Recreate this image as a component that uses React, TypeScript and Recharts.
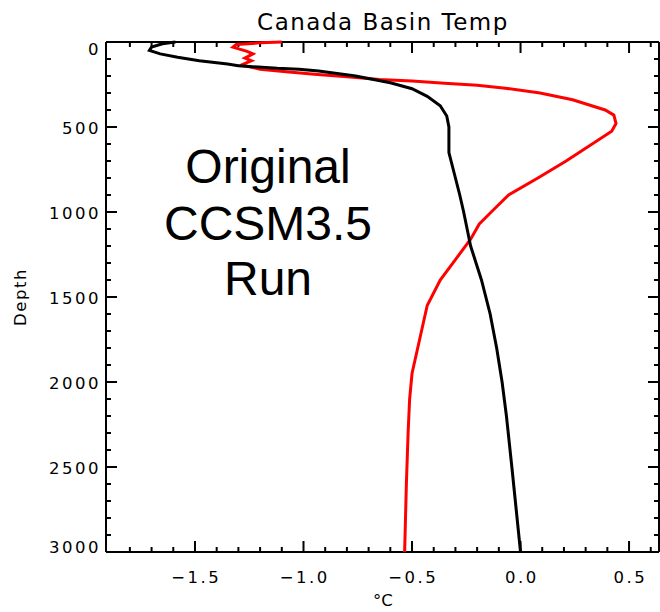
import React from 'react';
import { LineChart, Line, XAxis, YAxis, ReferenceLine } from 'recharts';

// black profile (depth m, temp degC)
const blackDepth = [0, 10, 30, 50, 70, 90, 110, 130, 140, 155, 160, 170, 200, 240, 275, 320, 375, 435, 500, 650, 750, 900, 1000, 1200, 1400, 1600, 1800, 2000, 2200, 2500, 2750, 3000];
const blackTemp = [-1.59, -1.65, -1.70, -1.71, -1.66, -1.58, -1.48, -1.35, -1.30, -1.12, -1.02, -0.93, -0.76, -0.60, -0.50, -0.43, -0.37, -0.34, -0.33, -0.33, -0.31, -0.28, -0.262, -0.23, -0.18, -0.14, -0.11, -0.085, -0.065, -0.04, -0.02, 0.0];

// red profile
const redDepth = [0, 5, 15, 30, 55, 70, 95, 110, 135, 160, 175, 190, 205, 220, 230, 243, 255, 272, 300, 340, 400, 430, 480, 525, 600, 700, 800, 900, 1000, 1070, 1160, 1280, 1400, 1550, 1750, 1950, 2100, 2300, 2600, 3000];
const redTemp = [-1.10, -1.20, -1.31, -1.325, -1.26, -1.233, -1.27, -1.24, -1.286, -1.20, -1.08, -0.95, -0.80, -0.65, -0.50, -0.35, -0.20, -0.07, 0.09, 0.24, 0.39, 0.43, 0.44, 0.42, 0.33, 0.21, 0.08, -0.055, -0.135, -0.19, -0.23, -0.30, -0.37, -0.43, -0.465, -0.50, -0.511, -0.518, -0.526, -0.534];

const xMajor = [-1.5, -1.0, -0.5, 0.0, 0.5];
const xTicks = [-1.8, -1.7, -1.6, -1.5, -1.4, -1.3, -1.2, -1.1, -1.0, -0.9, -0.8, -0.7, -0.6, -0.5, -0.4, -0.3, -0.2, -0.1, 0.0, 0.1, 0.2, 0.3, 0.4, 0.5, 0.6];
const yMajor = [0, 500, 1000, 1500, 2000, 2500, 3000];
const yTicks = [0, 100, 200, 300, 400, 500, 600, 700, 800, 900, 1000, 1100, 1200, 1300, 1400, 1500, 1600, 1700, 1800, 1900, 2000, 2100, 2200, 2300, 2400, 2500, 2600, 2700, 2800, 2900, 3000];

const X_DOMAIN: [number, number] = [-1.91, 0.638];
const Y_DOMAIN: [number, number] = [0, 3000];

const blackRows = blackDepth.map((d, i) => ({ depth: d, temp: blackTemp[i] }));
const redRows = redDepth.map((d, i) => ({ depth: d, temp: redTemp[i] }));

const FONT = '"DejaVu Sans", sans-serif';
const TICK_FS = 16.5;
const SPACING = 2.5;
const MAJOR = 11;
const MINOR = 5;

const fmtTemp = (v: number) => v.toFixed(1).replace('-', '\u2212');
const isMajorX = (v: number) => xMajor.some((m) => Math.abs(m - v) < 1e-6);

// axis labels only; tick marks are drawn inward with reference lines
const BottomLabel = (p: any) => {
  const v = p.payload.value;
  if (!isMajorX(v)) return <g />;
  return (
    <text x={Number(p.x) + SPACING / 2} y={Number(p.y) + 31} textAnchor="middle" fontFamily={FONT}
      fontSize={TICK_FS} letterSpacing={SPACING} fill="#000">
      {fmtTemp(v)}
    </text>
  );
};

const LeftLabel = (p: any) => {
  const v = p.payload.value;
  if (!yMajor.includes(v)) return <g />;
  const y = Number(p.y);
  const base = v === 0 ? y + 13 : v === 3000 ? y + 1 : y + 7;
  return (
    <text x={Number(p.x) - 5} y={base} textAnchor="end" fontFamily={FONT}
      fontSize={TICK_FS} letterSpacing={SPACING} fill="#000">
      {v}
    </text>
  );
};

// short inward marks at both ends of a full-height / full-width reference line
const xTickShape = (len: number) => (p: any) => {
  const x = p.x1;
  const top = Math.min(p.y1, p.y2);
  const bot = Math.max(p.y1, p.y2);
  return <path d={`M${x},${bot}V${bot - len}M${x},${top}V${top + len}`} stroke="#000" strokeWidth={2} fill="none" />;
};

const yTickShape = (len: number) => (p: any) => {
  const y = p.y1;
  const l = Math.min(p.x1, p.x2);
  const r = Math.max(p.x1, p.x2);
  return <path d={`M${l},${y}H${l + len}M${r},${y}H${r - len}`} stroke="#000" strokeWidth={2} fill="none" />;
};

export default function App() {
  return (
    <div style={{ position: 'absolute', left: 0, top: 0, width: 660, height: 612, background: '#fff' }}>
      <LineChart width={660} height={612} layout="vertical" margin={{ top: 42, right: 1, bottom: 0, left: 0 }}>
        <XAxis type="number" domain={X_DOMAIN} ticks={xTicks} orientation="bottom" height={60}
          tickSize={0} tickMargin={0} tickLine={false} axisLine={false} tick={BottomLabel} interval={0} />
        <YAxis type="number" dataKey="depth" domain={Y_DOMAIN} ticks={yTicks} width={106}
          tickSize={0} tickMargin={0} tickLine={false} axisLine={false} tick={LeftLabel} interval={0} />
        {xTicks.map((v) => (
          <ReferenceLine key={`x${v}`} x={v} shape={xTickShape(isMajorX(v) ? MAJOR : MINOR)} />
        ))}
        {yTicks.map((v) => (
          <ReferenceLine key={`y${v}`} y={v} shape={yTickShape(yMajor.includes(v) ? MAJOR : MINOR)} />
        ))}
        <ReferenceLine x={X_DOMAIN[0]} stroke="#000" strokeWidth={2} />
        <ReferenceLine x={X_DOMAIN[1]} stroke="#000" strokeWidth={2} />
        <ReferenceLine y={Y_DOMAIN[0]} stroke="#000" strokeWidth={2} />
        <ReferenceLine y={Y_DOMAIN[1]} stroke="#000" strokeWidth={2} />
        <Line data={redRows} dataKey="temp" type="linear" stroke="#ff0000" strokeWidth={3}
          dot={false} activeDot={false} isAnimationActive={false} />
        <Line data={blackRows} dataKey="temp" type="linear" stroke="#000" strokeWidth={3}
          dot={false} activeDot={false} isAnimationActive={false} />
      </LineChart>
      <svg width={660} height={612} style={{ position: 'absolute', left: 0, top: 0, pointerEvents: 'none' }}>
        <text x={383} y={30} textAnchor="middle" fontFamily={FONT} fontSize={23} letterSpacing={1.5}>
          Canada Basin Temp
        </text>
        <text x={383} y={606} textAnchor="middle" fontFamily={FONT} fontSize={16.5}>°C</text>
        <text transform="translate(26,297) rotate(-90)" textAnchor="middle" fontFamily={FONT}
          fontSize={16.5} letterSpacing={1.5}>
          Depth
        </text>
        <g fontFamily='"Liberation Sans", Arial, sans-serif' fontSize={48} textAnchor="middle">
          <text x={268} y={183}>Original</text>
          <text x={268} y={240}>CCSM3.5</text>
          <text x={268} y={295}>Run</text>
        </g>
      </svg>
    </div>
  );
}
